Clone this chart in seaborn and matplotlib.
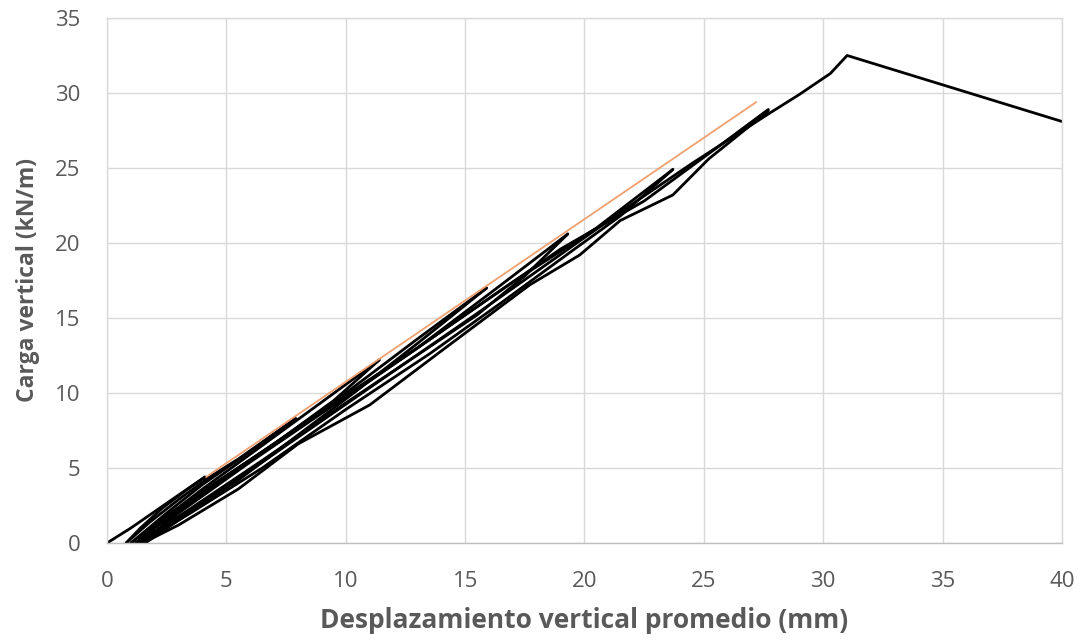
import numpy as np
import pandas as pd
import matplotlib
matplotlib.use("Agg")
import matplotlib.pyplot as plt
import seaborn as sns

# ---- data ----
x_ticks = [0, 5, 10, 15, 20, 25, 30, 35, 40]
y_ticks = [0, 5, 10, 15, 20, 25, 30, 35]
x_label = "Desplazamiento vertical promedio (mm)"
y_label = "Carga vertical (kN/m)"

load0_x = [0, 1, 2, 3, 4.1]
load0_y = [0, 1.0, 2.1, 3.2, 4.4]
unload1_x = [4.1, 3.3, 2.3, 1.4, 0.8]
unload1_y = [4.4, 3.5, 2.3, 1.0, 0]
reload1_x = [0.8, 1.8, 3, 4.2, 5.5, 7.9]
reload1_y = [0, 1.4, 2.9, 4.3, 5.6, 8.3]
unload2_x = [7.9, 6, 4, 2.5, 1.0]
unload2_y = [8.3, 6.1, 3.9, 2.0, 0]
reload2_x = [1.0, 2.2, 3.5, 5, 7, 9.5, 11.4]
reload2_y = [0, 1.5, 2.9, 4.5, 6.6, 9.5, 12.2]
unload3_x = [11.4, 9, 6.5, 4, 2.2, 1.2]
unload3_y = [12.2, 9.4, 6.5, 3.6, 1.4, 0]
reload3_x = [1.2, 3, 5.5, 8, 10.5, 13, 15.9]
reload3_y = [0, 1.7, 4.2, 7.2, 10.2, 13.3, 17.0]
unload4_x = [15.9, 13, 10, 7, 4, 2, 1.3]
unload4_y = [17.0, 13.6, 10.0, 6.6, 3.3, 1.0, 0]
reload4_x = [1.3, 3.5, 6.5, 9.5, 12.5, 15.5, 17.5, 19.3]
reload4_y = [0, 2.3, 5.5, 8.8, 12.0, 15.2, 17.8, 20.6]
unload5_x = [19.3, 16.5, 13, 9.5, 6, 3, 1.4]
unload5_y = [20.6, 17.2, 13.0, 9.2, 5.4, 2.0, 0]
reload5_x = [1.4, 3.5, 6.5, 10, 13.5, 16.5, 19.5, 21.5, 23.7]
reload5_y = [0, 2.0, 5.0, 8.9, 12.6, 16.0, 19.5, 21.8, 24.9]
unload6_x = [23.7, 20.5, 17, 13, 9, 5.5, 2.8, 1.5]
unload6_y = [24.9, 21.0, 17.4, 13.0, 8.8, 5.0, 1.8, 0]
reload6_x = [1.5, 3, 5.5, 8, 11, 14, 17.7, 19.8, 21.5, 23.7, 25.2, 27.7]
reload6_y = [0, 1.2, 3.6, 6.6, 9.2, 12.8, 17.2, 19.2, 21.5, 23.2, 25.6, 28.8]
unload7_x = [27.7, 25.5, 22.5, 19, 15, 11, 7, 4, 2, 1.6]
unload7_y = [28.9, 26.3, 22.8, 19.6, 15.2, 10.8, 6.6, 3.4, 1.0, 0]
final_x = [1.6, 4, 7.5, 11.5, 15.5, 19.5, 22, 24.5, 27.7, 29, 30.3, 31.0, 40]
final_y = [0, 2.6, 6.5, 10.9, 15.3, 19.8, 22.6, 25.3, 28.6, 29.9, 31.3, 32.5, 28.1]

fit_x = [4.15, 27.2]
fit_y = [4.4, 29.4]

segments = [
    (load0_x, load0_y), (unload1_x, unload1_y), (reload1_x, reload1_y),
    (unload2_x, unload2_y), (reload2_x, reload2_y), (unload3_x, unload3_y),
    (reload3_x, reload3_y), (unload4_x, unload4_y), (reload4_x, reload4_y),
    (unload5_x, unload5_y), (reload5_x, reload5_y), (unload6_x, unload6_y),
    (reload6_x, reload6_y), (unload7_x, unload7_y), (final_x, final_y),
]

frames = []
for i, (sx, sy) in enumerate(segments):
    frames.append(pd.DataFrame({"x": sx, "y": sy, "seg": i}))
df = pd.concat(frames, ignore_index=True)
df_fit = pd.DataFrame({"x": fit_x, "y": fit_y})

# ---- plot ----
sns.set_style("white")
plt.rcParams["font.family"] = ["Open Sans", "DejaVu Sans"]

fig = plt.figure(figsize=(10.8, 6.42), dpi=100)
ax = fig.add_axes([0.0991, 0.1542, 0.8842, 0.8178])

sns.lineplot(data=df, x="x", y="y", units="seg", estimator=None, sort=False,
             color="black", linewidth=2.0, ax=ax)
sns.lineplot(data=df_fit, x="x", y="y", estimator=None, sort=False,
             color="#F0A070", linewidth=1.3, ax=ax)

ax.set_xlim(0, 40)
ax.set_ylim(0, 35)
ax.set_xticks(x_ticks)
ax.set_yticks(y_ticks)
ax.set_xticklabels([str(t) for t in x_ticks])
ax.set_yticklabels([str(t) for t in y_ticks])
ax.grid(True, color="#D9D9D9", linewidth=1.0)
ax.set_axisbelow(True)
for s in ax.spines.values():
    s.set_color("#D9D9D9")
    s.set_linewidth(1.0)
ax.spines["bottom"].set_color("#BFBFBF")
ax.tick_params(axis="both", length=0, labelsize=16, labelcolor="#595959")
ax.tick_params(axis="x", pad=20)
ax.tick_params(axis="y", pad=19)
ax.set_xlabel(x_label, fontsize=19, fontweight="bold", color="#595959", labelpad=11)
ax.set_ylabel(y_label, fontsize=16.5, fontweight="bold", color="#595959", labelpad=11)

fig.savefig("out.png", dpi=100)
